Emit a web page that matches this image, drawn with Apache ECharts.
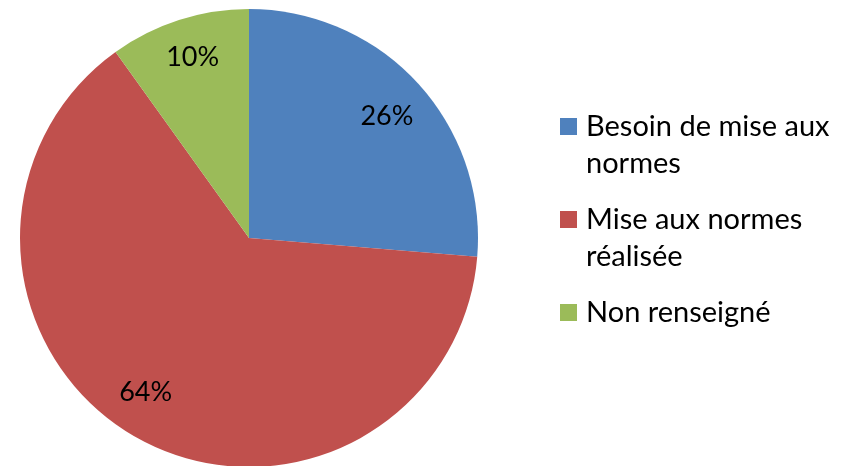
<!DOCTYPE html>
<html>
<head>
<meta charset="utf-8">
<script src="https://cdn.jsdelivr.net/npm/echarts@6/dist/echarts.min.js"></script>
<style>
  html, body { margin: 0; padding: 0; background: #fff; }
  #chart { width: 852px; height: 466px; }
</style>
</head>
<body>
<div id="chart"></div>
<script>
const categories = ["Besoin de mise aux normes", "Mise aux normes réalisée", "Non renseigné"];
const legendLines = ["Besoin de mise aux\nnormes", "Mise aux normes\nréalisée", "Non renseigné"];
const shares = [26.3, 63.8, 9.9];
const colors = ["#4F81BD", "#C0504D", "#9BBB59"];
// small label nudges so the percentages sit where the original placed them
const labelNudge = [[0, 5], [-11, -9], [1, -2]];

const font = "Lato";

const chart = echarts.init(document.getElementById("chart"));

chart.setOption({
    animation: false,
    backgroundColor: "#fff",
    legend: {
        orient: "vertical",
        left: 555,
        top: 66,
        itemWidth: 17,
        itemHeight: 17,
        itemGap: -18,
        icon: "rect",
        selectedMode: false,
        // leading blank line puts the first text line level with the icon
        formatter: name => {
            const txt = legendLines[categories.indexOf(name)];
            return txt.includes("\n") ? "\n" + txt : txt;
        },
        textStyle: {
            fontFamily: font,
            fontSize: 29,
            lineHeight: 37,
            color: "#000"
        },
        data: categories.map((name, i) => ({
            name: name,
            textStyle: { padding: legendLines[i].includes("\n") ? [0, 0, 0, 4] : [37, 0, 37, 4] }
        }))
    },
    series: [
        {
            type: "pie",
            center: [249, 238],
            radius: [0, 229],
            startAngle: 90,
            clockwise: true,
            silent: true,
            label: { show: false },
            labelLine: { show: false },
            data: categories.map((name, i) => ({ name: name, value: shares[i], itemStyle: { color: colors[i] } }))
        },
        {
            // transparent ring, only used to put the percentages further out
            type: "pie",
            center: [249, 238],
            radius: [140, 229],
            startAngle: 90,
            clockwise: true,
            silent: true,
            percentPrecision: 0,
            itemStyle: { color: "rgba(0,0,0,0)" },
            label: {
                show: true,
                position: "inside",
                formatter: "{d}%",
                fontFamily: font,
                fontSize: 27,
                color: "#000"
            },
            labelLine: { show: false },
            data: categories.map((name, i) => ({ name: name, value: shares[i], label: { offset: labelNudge[i] } }))
        }
    ]
});
</script>
</body>
</html>
